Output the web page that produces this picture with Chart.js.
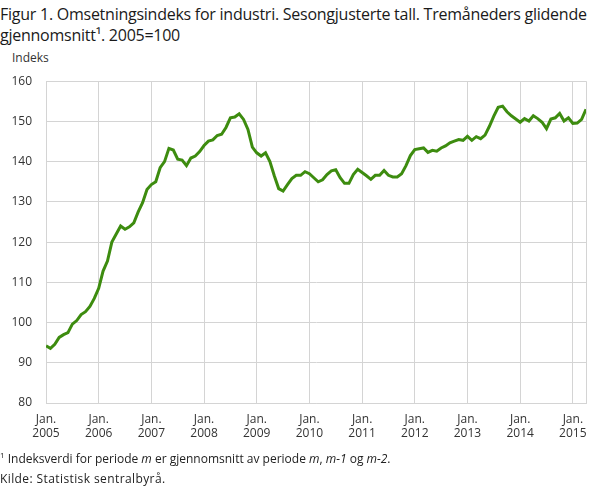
<!DOCTYPE html>
<html><head><meta charset="utf-8">
<script src="https://cdn.jsdelivr.net/npm/chart.js@4"></script>
<style>
body{margin:0;width:609px;height:488px;background:#fff;font-family:"Open Sans",sans-serif;color:#222;position:relative;overflow:hidden}
#title{position:absolute;left:0;top:4px;font-size:16px;line-height:21px;color:#1a1a1a;letter-spacing:-0.25px}
#ylab{position:absolute;left:12px;top:49px;font-size:12px;color:#333}
#foot{position:absolute;left:0;top:449px;font-size:12px;line-height:20px;color:#222}
#wrap{position:absolute;left:0;top:60px;width:609px;height:391px}
sup{font-size:8px;vertical-align:5px;line-height:0}
</style></head><body>
<div id="title">Figur 1. Omsetningsindeks for industri. Sesongjusterte tall. Tremåneders glidende<br>gjennomsnitt¹. 2005=100</div>
<div id="ylab">Indeks</div>
<div id="wrap"><canvas id="c"></canvas></div>
<div id="foot"><sup>1</sup> Indeksverdi for periode <i>m</i> er gjennomsnitt av periode <i>m</i>, <i>m-1</i> og <i>m-2</i>.<br><span style="letter-spacing:0.4px">Kilde: Statistisk sentralbyrå.</span></div>
<script>
const startYear = 2005;
const tickYears = ['2005','2006','2007','2008','2009','2010','2011','2012','2013','2014','2015'];
const yTicks = [80,90,100,110,120,130,140,150,160];
const values2005 = [94.2,93.6,94.6,96.3,97.0,97.5,99.6,100.5,102.0,102.7,104.0,106.0];
const values2006 = [108.5,112.8,115.3,120.0,122.0,124.0,123.2,123.8,124.8,127.5,129.8,133.1];
const values2007 = [134.3,135.0,138.5,140.0,143.3,142.9,140.6,140.4,139.0,140.9,141.4,142.5];
const values2008 = [144.0,145.1,145.4,146.5,146.8,148.5,150.9,151.1,151.9,150.5,148.0,143.6];
const values2009 = [142.2,141.4,142.2,140.0,136.5,133.3,132.7,134.3,135.8,136.6,136.6,137.5];
const values2010 = [137.0,136.0,135.0,135.5,136.8,137.7,138.0,136.0,134.6,134.6,136.8,138.1];
const values2011 = [137.3,136.5,135.6,136.6,136.6,137.8,136.6,136.2,136.2,137.0,139.0,141.5];
const values2012 = [143.0,143.2,143.4,142.3,142.8,142.6,143.4,143.9,144.7,145.1,145.5,145.3];
const values2013 = [146.3,145.3,146.2,145.7,146.6,148.8,151.3,153.5,153.8,152.4,151.4,150.6];
const values2014 = [149.8,150.7,150.1,151.4,150.7,149.8,148.2,150.6,150.9,152.0,150.1,150.9];
const values2015 = [149.5,149.6,150.5,153.0];
const series = [].concat(values2005,values2006,values2007,values2008,values2009,values2010,values2011,values2012,values2013,values2014,values2015);
const points = series.map((v,i)=>({x:i,y:v}));
const lastIdx = series.length-1;

new Chart(document.getElementById('c'),{
  type:'line',
  data:{datasets:[{data:points,borderColor:'#3d8c0f',borderWidth:3,pointRadius:0,tension:0,fill:false}]},
  options:{
    responsive:true,maintainAspectRatio:false,animation:false,
    layout:{padding:{top:10,right:23,left:0,bottom:0}},
    plugins:{legend:{display:false},tooltip:{enabled:false}},
    scales:{
      x:{type:'linear',min:0,max:lastIdx,
        afterBuildTicks:(s)=>{const t=[];for(let i=0;i<tickYears.length;i++)t.push({value:i*12});t.push({value:lastIdx});s.ticks=t;},
        afterFit:(s)=>{s.height=48;},
        grid:{color:'#d4d4d4',lineWidth:1,drawTicks:false},
        border:{color:'#d4d4d4'},
        ticks:{autoSkip:false,maxRotation:0,padding:9,color:'#333',font:{family:'Open Sans',size:12},
          callback:(v)=>{const k=v/12; if(Number.isInteger(k)&&k<tickYears.length) return ['Jan.',tickYears[k]]; return '';}}
      },
      y:{min:80,max:160,
        afterBuildTicks:(s)=>{s.ticks=yTicks.map(v=>({value:v}));},
        afterFit:(s)=>{s.width=46;},
        grid:{color:'#d4d4d4',lineWidth:1,drawTicks:false},
        border:{color:'#d4d4d4'},
        ticks:{padding:14,color:'#333',font:{family:'Open Sans',size:12}}
      }
    }
  }
});
</script>
</body></html>
